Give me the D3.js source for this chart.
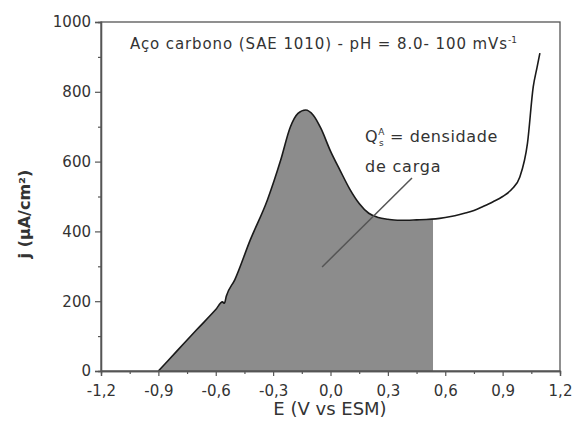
<!DOCTYPE html>
<html>
<head>
<meta charset="utf-8">
<script src="https://cdn.jsdelivr.net/npm/d3@7"></script>
<style>
  html, body { margin: 0; padding: 0; background: #fff; }
  svg { display: block; }
  text { font-family: "DejaVu Sans", "Liberation Sans", sans-serif; fill: #333; }
</style>
</head>
<body>
<svg id="chart" width="573" height="434"></svg>
<script>
// ---- data ----
const potentialE = [-0.9, -0.8, -0.7, -0.6, -0.565, -0.555, -0.545, -0.5, -0.42, -0.33, -0.26, -0.21, -0.17, -0.13, -0.09, -0.05, 0.0, 0.05, 0.1, 0.15, 0.2, 0.25, 0.3, 0.35, 0.4, 0.45, 0.5, 0.55, 0.6, 0.65, 0.7, 0.75, 0.8, 0.85, 0.9, 0.95, 0.99, 1.03, 1.06, 1.08, 1.095];
const currentJ   = [0, 59, 118, 176, 198, 194, 214, 262, 375, 490, 605, 699, 738, 748, 733, 695, 630, 575, 522, 480, 452, 440, 435, 432, 432, 433, 434, 436, 440, 445, 452, 460, 472, 485, 500, 522, 556, 653, 814, 870, 911];
const chargeLimitsE = [-0.9, 0.536];
const xTicks = [-1.2, -0.9, -0.6, -0.3, 0.0, 0.3, 0.6, 0.9, 1.2];
const yTicks = [0, 200, 400, 600, 800, 1000];
const xMinorTicks = [-1.05, -0.75, -0.45, -0.15, 0.15, 0.45, 0.75, 1.05];
const yMinorTicks = [100, 300, 500, 700, 900];
const pointerLine = [[-0.044, 298], [0.426, 553]];
const chartTitle = "Aço carbono (SAE 1010) - pH = 8.0- 100 mVs";
const xTitle = "E (V vs ESM)";
const yTitle = "j (µA/cm²)";

// ---- layout ----
const svg = d3.select("#chart");
const L = 101, R = 560, T = 22, B = 371;
const x = d3.scaleLinear().domain([-1.2, 1.2]).range([L, R]);
const y = d3.scaleLinear().domain([0, 1000]).range([B, T]);
const fmt = d => d3.format(".1f")(d).replace(".", ",").replace("−", "-");

const data = potentialE.map((e, i) => ({ e, j: currentJ[i] }));

// clip for the shaded charge area
svg.append("clipPath").attr("id", "qclip")
  .append("rect")
  .attr("x", x(chargeLimitsE[0])).attr("y", T)
  .attr("width", x(chargeLimitsE[1]) - x(chargeLimitsE[0]))
  .attr("height", B - T);

const area = d3.area().x(d => x(d.e)).y0(y(0)).y1(d => y(d.j)).curve(d3.curveMonotoneX);
svg.append("path").datum(data)
  .attr("d", area)
  .attr("fill", "#8c8c8c")
  .attr("clip-path", "url(#qclip)");

const line = d3.line().x(d => x(d.e)).y(d => y(d.j)).curve(d3.curveMonotoneX);
svg.append("path").datum(data)
  .attr("d", line)
  .attr("fill", "none")
  .attr("stroke", "#1a1a1a")
  .attr("stroke-width", 1.6);

// pointer line
svg.append("line")
  .attr("x1", x(pointerLine[0][0])).attr("y1", y(pointerLine[0][1]))
  .attr("x2", x(pointerLine[1][0])).attr("y2", y(pointerLine[1][1]))
  .attr("stroke", "#555").attr("stroke-width", 1.5);

// frame
svg.append("rect").attr("x", L).attr("y", T).attr("width", R - L).attr("height", B - T)
  .attr("fill", "none").attr("stroke", "#555").attr("stroke-width", 1.3);

// axes
svg.append("g").attr("transform", `translate(0,${B})`)
  .call(d3.axisBottom(x).tickValues(xTicks).tickFormat(fmt).tickSize(5).tickPadding(9));
svg.append("g").attr("transform", `translate(${L},0)`)
  .call(d3.axisLeft(y).tickValues(yTicks).tickFormat(d3.format("d")).tickSize(6).tickPadding(4));
svg.append("g").attr("transform", `translate(0,${B})`)
  .call(d3.axisBottom(x).tickValues(xMinorTicks).tickFormat("").tickSize(3));
svg.append("g").attr("transform", `translate(${L},0)`)
  .call(d3.axisLeft(y).tickValues(yMinorTicks).tickFormat("").tickSize(3));

svg.selectAll(".domain").attr("stroke", "#555").attr("stroke-width", 1.3);
svg.selectAll(".tick line").attr("stroke", "#555").attr("stroke-width", 1.2);
svg.selectAll(".tick text").attr("font-family", "DejaVu Sans").attr("font-size", 15).attr("fill", "#333");

// titles
const t = svg.append("text").attr("x", 130).attr("y", 49).attr("font-size", 15)
  .attr("letter-spacing", 0.9);
t.append("tspan").text(chartTitle);
t.append("tspan").attr("font-size", 9).attr("dy", -6).attr("letter-spacing", 0).text("-1");

svg.append("text").attr("x", 330).attr("y", 415).attr("text-anchor", "middle")
  .attr("font-size", 18).text(xTitle);

svg.append("text").attr("transform", `translate(30,${214}) rotate(-90)`)
  .attr("text-anchor", "middle").attr("font-size", 16).attr("font-weight", "bold")
  .text(yTitle);

// annotation
const a1 = svg.append("text").attr("x", 365).attr("y", 142).attr("font-size", 16)
  .attr("letter-spacing", 0.6);
a1.append("tspan").text("Q");
a1.append("tspan").attr("font-size", 9).attr("dy", -7).text("A");
a1.append("tspan").attr("font-size", 9).attr("dx", -6).attr("dy", 11).text("s");
a1.append("tspan").attr("dy", -4).text(" = densidade");
svg.append("text").attr("x", 365).attr("y", 172).attr("font-size", 16)
  .attr("letter-spacing", 0.8).text("de carga");
</script>
</body>
</html>
